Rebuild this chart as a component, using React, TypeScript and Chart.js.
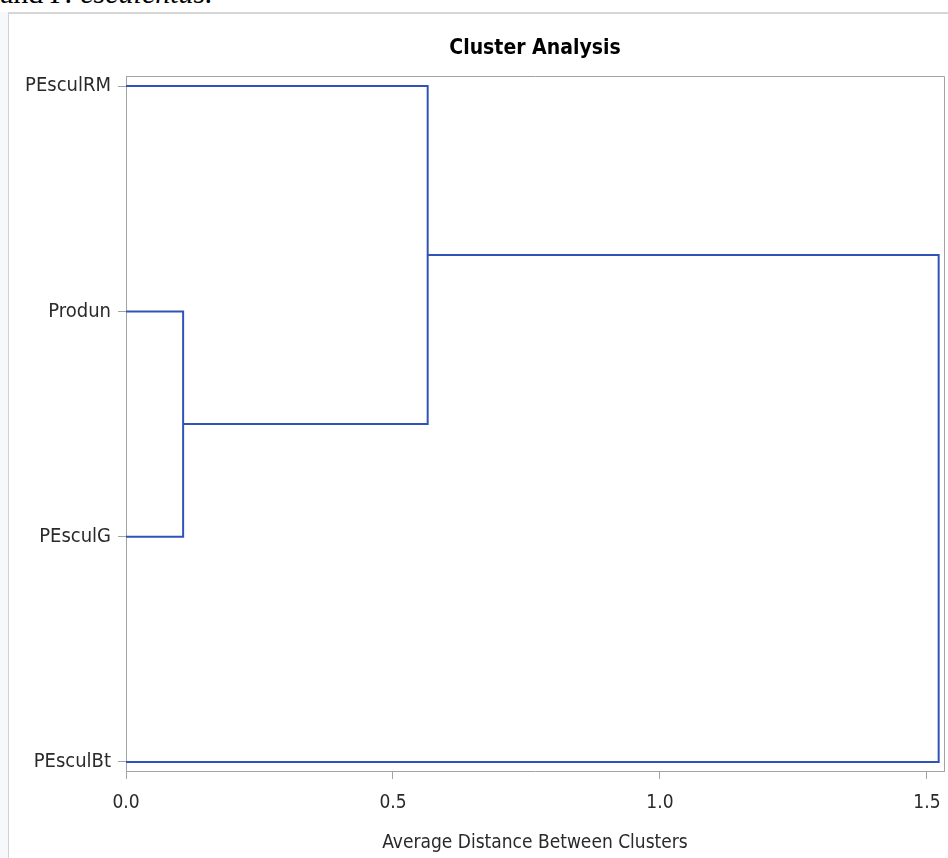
import React, { useEffect, useRef } from "react";
import { Chart, registerables } from "chart.js";

Chart.register(...registerables);

// Leaves (top to bottom) and the merge history of the dendrogram
const leafLabels = ["PEsculRM", "Produn", "PEsculG", "PEsculBt"];
const mergeLeft = ["Produn", "PEsculRM", "C2"];
const mergeRight = ["PEsculG", "C1", "PEsculBt"];
const mergeHeights = [0.107, 0.565, 1.522];
const xTickValues = [0, 0.5, 1.0, 1.5];
const xTickLabels = ["0.0", "0.5", "1.0", "1.5"];

const NARROW =
  "'DejaVu Sans Condensed', 'Liberation Sans Narrow', 'Arial Narrow', 'Liberation Sans', Arial, sans-serif";
const LINE_COLOR = "#3053b8";
const AXIS_GRAY = "#a3a3a3";

function buildSegments() {
  const pos: Record<string, { x: number; y: number }> = {};
  leafLabels.forEach((l, i) => (pos[l] = { x: 0, y: i }));
  const segs: { x: number; y: number }[][] = [];
  mergeHeights.forEach((h, i) => {
    const a = pos[mergeLeft[i]];
    const b = pos[mergeRight[i]];
    segs.push([
      { x: a.x, y: a.y },
      { x: h, y: a.y },
      { x: h, y: b.y },
      { x: b.x, y: b.y },
    ]);
    pos["C" + (i + 1)] = { x: h, y: (a.y + b.y) / 2 };
  });
  return segs;
}

const frameBorder = {
  id: "frameBorder",
  afterDatasetsDraw(chart: any) {
    const { ctx, chartArea } = chart;
    ctx.save();
    ctx.strokeStyle = AXIS_GRAY;
    ctx.lineWidth = 1;
    ctx.beginPath();
    ctx.moveTo(Math.round(chartArea.left) + 0.5, Math.round(chartArea.top) + 0.5);
    ctx.lineTo(Math.round(chartArea.right) + 0.5, Math.round(chartArea.top) + 0.5);
    ctx.lineTo(Math.round(chartArea.right) + 0.5, Math.round(chartArea.bottom) + 0.5);
    ctx.stroke();
    ctx.restore();
  },
};

export default function App() {
  const ref = useRef<HTMLCanvasElement | null>(null);

  useEffect(() => {
    if (!ref.current) return;
    const segs = buildSegments();
    const chart = new Chart(ref.current, {
      type: "scatter",
      data: {
        datasets: segs.map((s) => ({
          data: s,
          showLine: true,
          borderColor: LINE_COLOR,
          borderWidth: 2,
          pointRadius: 0,
          pointHoverRadius: 0,
          tension: 0,
          fill: false,
        })),
      },
      options: {
        animation: false,
        responsive: false,
        events: [],
        layout: { padding: { left: 0, right: 4, top: 0, bottom: 0 } },
        plugins: {
          legend: { display: false },
          tooltip: { enabled: false },
          title: {
            display: true,
            text: "Cluster Analysis",
            fullSize: false,
            color: "#000",
            font: { family: NARROW, size: 21, weight: "bold" },
            padding: { top: 36, bottom: 15 },
          },
        },
        scales: {
          x: {
            type: "linear",
            position: "bottom",
            min: 0,
            max: 1.532,
            afterBuildTicks: (axis: any) => {
              axis.ticks = xTickValues.map((v) => ({ value: v }));
            },
            afterFit: (axis: any) => {
              axis.height = 87;
              axis.paddingLeft = 0;
              axis.paddingRight = 0;
            },
            ticks: {
              callback: (v: any) => {
                const i = xTickValues.indexOf(Number(v));
                return i >= 0 ? xTickLabels[i] : "";
              },
              color: "#2a2a2a",
              font: { family: NARROW, size: 19 },
              padding: 13,
              maxRotation: 0,
            },
            grid: { drawOnChartArea: false, tickLength: 8, color: AXIS_GRAY },
            border: { display: true, color: AXIS_GRAY },
            title: {
              display: true,
              text: "Average Distance Between Clusters",
              color: "#2a2a2a",
              font: { family: NARROW, size: 19 },
              padding: { top: 0, bottom: 4 },
            },
          },
          y: {
            type: "linear",
            reverse: true,
            min: -0.044,
            max: 3.04,
            afterBuildTicks: (axis: any) => {
              axis.ticks = leafLabels.map((_, i) => ({ value: i }));
            },
            afterFit: (axis: any) => {
              axis.width = 126;
              axis.paddingTop = 0;
              axis.paddingBottom = 0;
            },
            ticks: {
              callback: (v: any) => leafLabels[Number(v)] ?? "",
              color: "#2a2a2a",
              font: { family: NARROW, size: 20 },
              padding: 7,
            },
            grid: { drawOnChartArea: false, tickLength: 8, color: AXIS_GRAY },
            border: { display: true, color: AXIS_GRAY },
          },
        },
      },
      plugins: [frameBorder],
    } as any);
    return () => chart.destroy();
  }, []);

  return (
    <div
      style={{
        position: "fixed",
        left: 0,
        top: 0,
        width: 948,
        height: 858,
        overflow: "hidden",
        background: "#fff",
      }}
    >
      <div
        style={{
          position: "absolute",
          left: 0,
          top: -22,
          fontFamily: "'Liberation Serif', 'Times New Roman', serif",
          fontSize: 30,
          lineHeight: "30px",
          whiteSpace: "nowrap",
          color: "#000",
        }}
      >
        and <i>P. esculentus.</i>
      </div>
      <div
        style={{
          position: "absolute",
          left: 0,
          top: 12,
          width: 8,
          height: 900,
          background: "#f6f8fc",
        }}
      />
      <div
        style={{
          position: "absolute",
          left: 8,
          top: 12,
          width: 1000,
          height: 900,
          borderLeft: "1px solid #d2d2d2",
          borderTop: "2px solid #d6d6d6",
        }}
      />
      <canvas
        ref={ref}
        width={948}
        height={858}
        style={{ position: "absolute", left: 0, top: 0, width: 948, height: 858 }}
      />
    </div>
  );
}
